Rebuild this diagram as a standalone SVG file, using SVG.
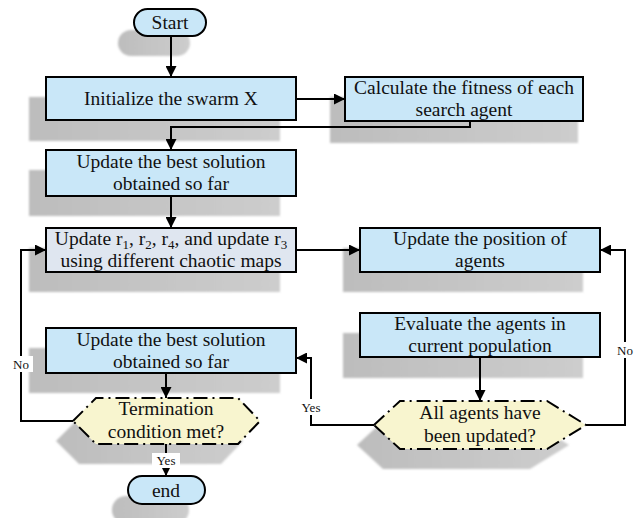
<svg xmlns="http://www.w3.org/2000/svg" width="642" height="518" viewBox="0 0 642 518">
<defs>
<marker id="ah" viewBox="0 0 10 10" refX="10" refY="5" markerWidth="11" markerHeight="11" markerUnits="userSpaceOnUse" orient="auto">
<path d="M0,0 L10,5 L0,10 z" fill="#000"/>
</marker>
<filter id="blur" x="-10%" y="-10%" width="120%" height="120%"><feGaussianBlur stdDeviation="1.2"/></filter>
<linearGradient id="shg" x1="0" y1="0" x2="1" y2="0"><stop offset="0" stop-color="#bdbdbd"/><stop offset="1" stop-color="#cdcdcd"/></linearGradient>
</defs>
<style>
text{font-family:"Liberation Serif","Times New Roman",serif;font-size:19.5px;fill:#111;text-anchor:middle}
.lbl{font-size:13px}
.box{fill:#c9e7f8;stroke:#000;stroke-width:2}
.box2{fill:#dfe6f0;stroke:#000;stroke-width:2}
.term{fill:#c9e7f8;stroke:#000;stroke-width:2}
.hex{fill:#f8f5cf;stroke:#000;stroke-width:2;stroke-dasharray:14 5 2 5}
.sh{fill:url(#shg);filter:url(#blur)}
.cn{fill:none;stroke:#000;stroke-width:2}
</style>
<rect width="642" height="518" fill="#fff"/>
<g id="shadows">
<rect class="sh" x="118" y="30" width="72" height="26" rx="13"/>
<rect class="sh" x="29" y="97" width="251" height="44"/>
<rect class="sh" x="330" y="97" width="248" height="46"/>
<rect class="sh" x="29" y="170" width="251" height="46"/>
<rect class="sh" x="29" y="248" width="251" height="44"/>
<rect class="sh" x="343" y="248" width="240" height="44"/>
<rect class="sh" x="343" y="333" width="240" height="45"/>
<rect class="sh" x="29" y="348" width="251" height="45"/>
<polygon class="sh" points="56,441 79,418 221,418 243,441 221,464 79,464"/>
<polygon class="sh" points="357,445 383,421 530,421 569,445 530,469 383,469"/>
<rect class="sh" x="112" y="496" width="77" height="28" rx="14"/>
</g>
<g id="start"><rect class="term" x="134" y="9" width="72" height="27" rx="13.5"/><text x="170" y="29">Start</text></g>
<g id="init"><rect class="box" x="46" y="77" width="250" height="43"/><text x="171" y="105">Initialize the swarm X</text></g>
<g id="calc"><rect class="box" x="345" y="77" width="238" height="44"/><text x="464" y="94">Calculate the fitness of each</text><text x="464" y="116">search agent</text></g>
<g id="best1"><rect class="box" x="46" y="150" width="250" height="46"/><text x="171" y="168">Update the best solution</text><text x="171" y="190">obtained so far</text></g>
<g id="updr"><rect class="box2" x="46" y="228" width="250" height="44"/><text x="171" y="245">Update r<tspan font-size="13" baseline-shift="-4">1</tspan>, r<tspan font-size="13" baseline-shift="-4">2</tspan>, r<tspan font-size="13" baseline-shift="-4">4</tspan>, and update r<tspan font-size="13" baseline-shift="-4">3</tspan></text><text x="171" y="267">using different chaotic maps</text></g>
<g id="pos"><rect class="box" x="360" y="228" width="240" height="44"/><text x="480" y="245">Update the position of</text><text x="480" y="267">agents</text></g>
<g id="eval"><rect class="box" x="360" y="313" width="240" height="44"/><text x="480" y="330">Evaluate the agents in</text><text x="480" y="352">current population</text></g>
<g id="best2"><rect class="box" x="46" y="328" width="250" height="45"/><text x="171" y="346">Update the best solution</text><text x="171" y="368">obtained so far</text></g>
<g id="termc"><polygon class="hex" points="73,421 96,398 238,398 260,421 238,444 96,444"/><text x="166" y="415">Termination</text><text x="166" y="438">condition met?</text></g>
<g id="allag"><polygon class="hex" points="374,425 400,401 547,401 586,425 547,449 400,449"/><text x="480" y="419">All agents have</text><text x="480" y="442">been updated?</text></g>
<g id="end"><rect class="term" x="128" y="476" width="77" height="28" rx="14"/><text x="166" y="497">end</text></g>
<g id="connectors">
<path class="cn" d="M171,36 V77" marker-end="url(#ah)"/>
<path class="cn" d="M296,99 H345" marker-end="url(#ah)"/>
<path class="cn" d="M470,121 V127 H171 V150" marker-end="url(#ah)"/>
<path class="cn" d="M171,196 V228" marker-end="url(#ah)"/>
<path class="cn" d="M296,250 H360" marker-end="url(#ah)"/>
<path class="cn" d="M480,357 V401" marker-end="url(#ah)"/>
<path class="cn" d="M374,425 H311 V358 H296" marker-end="url(#ah)"/>
<path class="cn" d="M586,425 H625 V250 H600" marker-end="url(#ah)"/>
<path class="cn" d="M166,373 V398" marker-end="url(#ah)"/>
<path class="cn" d="M73,421 H21 V250 H46" marker-end="url(#ah)"/>
<path class="cn" d="M166,444 V476" marker-end="url(#ah)"/>
<rect x="9" y="356" width="24" height="16" fill="#fff"/><text class="lbl" x="21" y="368.5">No</text>
<rect x="613" y="342" width="24" height="16" fill="#fff"/><text class="lbl" x="625" y="354.5">No</text>
<rect x="297" y="399" width="28" height="16" fill="#fff"/><text class="lbl" x="311" y="411.5">Yes</text>
<rect x="152" y="453" width="28" height="15" fill="#fff"/><text class="lbl" x="166" y="465">Yes</text>
</g>
</svg>
